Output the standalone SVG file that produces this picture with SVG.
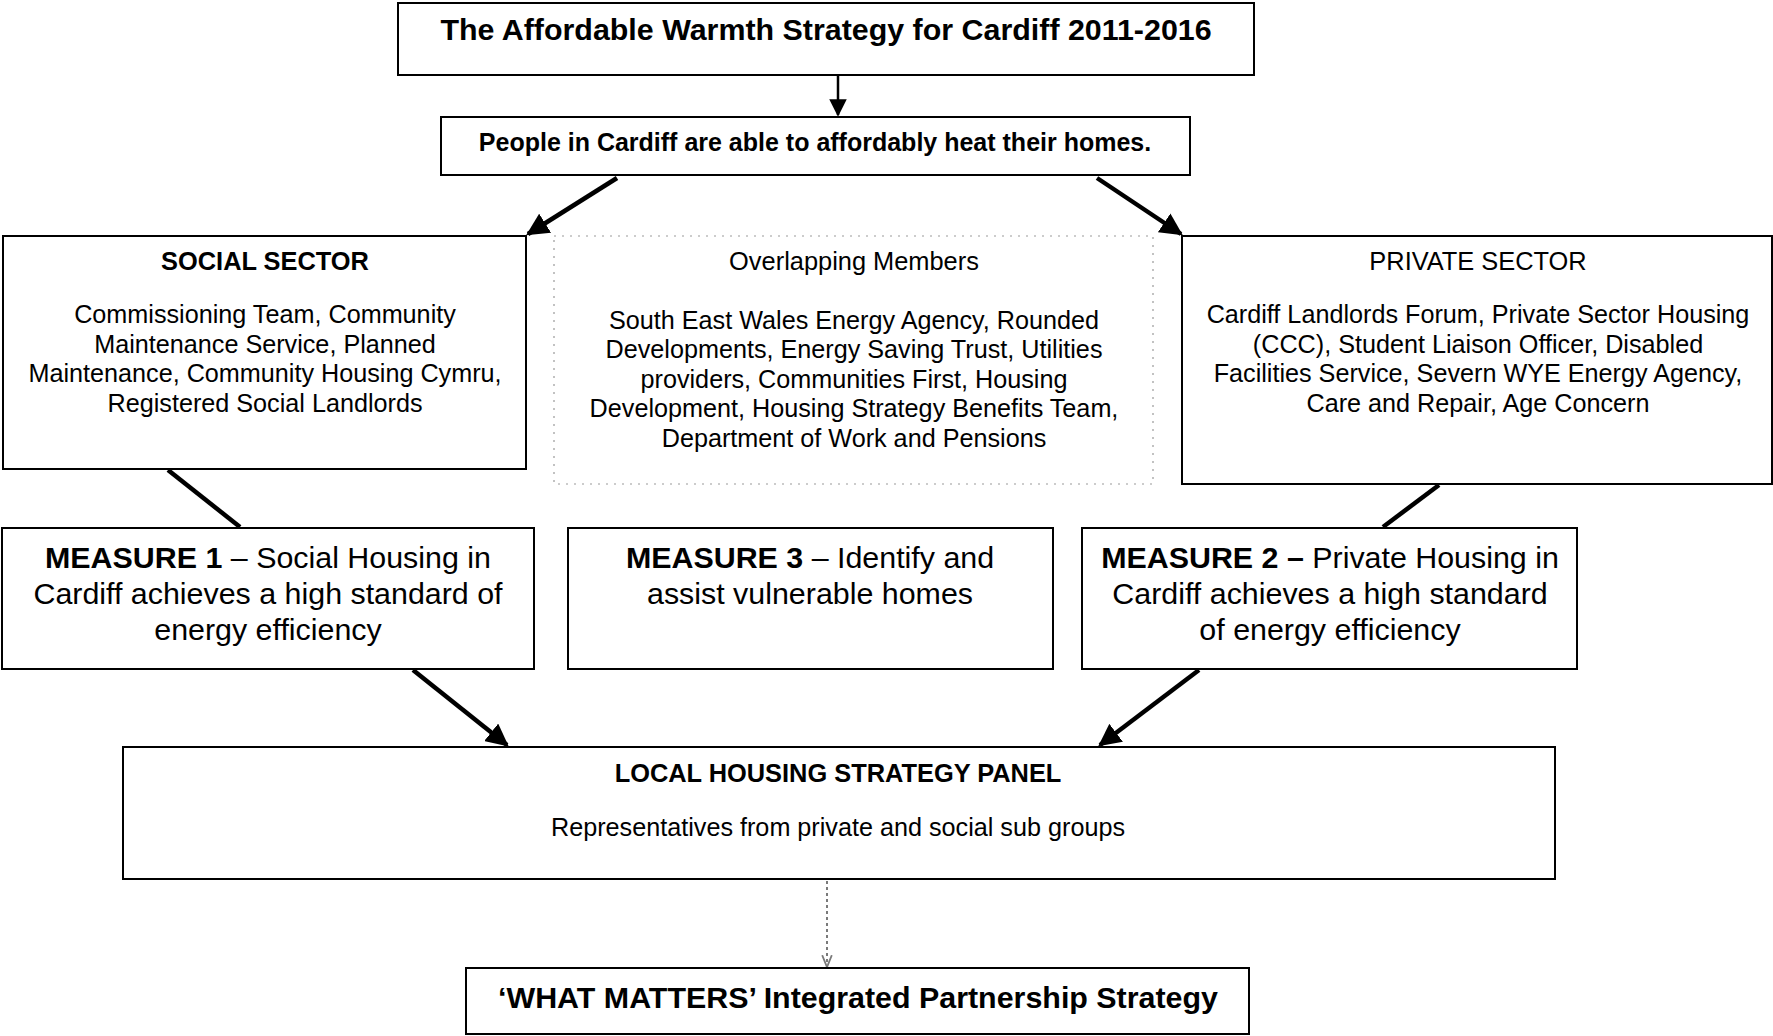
<svg xmlns="http://www.w3.org/2000/svg" width="1773" height="1036" viewBox="0 0 1773 1036">
  <style>
    .box { fill: #ffffff; stroke: #000000; stroke-width: 2; }
    .dotbox { fill: #ffffff; stroke: #9a9a9a; stroke-width: 1.2; stroke-dasharray: 2 6; }
    text { font-family: "Liberation Sans", Arial, sans-serif; fill: #000000; text-anchor: middle; }
    .b { font-weight: bold; }
    .title { font-size: 30.4px; font-weight: bold; }
    .sub { font-size: 25px; font-weight: bold; }
    .head { font-size: 25.4px; }
    .body { font-size: 25.2px; }
    .measure { font-size: 30.4px; }
    .link { stroke: #000000; stroke-width: 4.5; fill: none; }
    .thin { stroke: #000000; stroke-width: 2.5; fill: none; }
    .dash { stroke: #7a7a7a; stroke-width: 2; stroke-dasharray: 3 3; fill: none; }
  </style>
  <defs>
    <marker id="head" viewBox="0 0 10 10" refX="9" refY="5" markerWidth="5" markerHeight="5" orient="auto">
      <path d="M0,0 L10,5 L0,10 Z" fill="#000000"/>
    </marker>
    <marker id="headThin" viewBox="0 0 10 10" refX="9" refY="5" markerWidth="7" markerHeight="7" orient="auto">
      <path d="M0,0 L10,5 L0,10 Z" fill="#000000"/>
    </marker>
    <marker id="headGray" viewBox="0 0 10 10" refX="9" refY="5" markerWidth="6" markerHeight="6" orient="auto">
      <path d="M0,1 L10,5 L0,9" fill="none" stroke="#7a7a7a" stroke-width="1.5"/>
    </marker>
  </defs>

  <!-- connectors -->
  <g id="connectors">
    <line class="thin" x1="838" y1="76" x2="838" y2="115" marker-end="url(#headThin)"/>
    <line class="link" x1="617" y1="178" x2="528" y2="234" marker-end="url(#head)"/>
    <line class="link" x1="1097" y1="178" x2="1181" y2="234" marker-end="url(#head)"/>
    <line class="link" x1="168" y1="470" x2="240" y2="527"/>
    <line class="link" x1="1439" y1="485" x2="1383" y2="527"/>
    <line class="link" x1="413" y1="670" x2="507" y2="745" marker-end="url(#head)"/>
    <line class="link" x1="1199" y1="670" x2="1100" y2="745" marker-end="url(#head)"/>
    <line class="dash" x1="827" y1="881" x2="827" y2="966" marker-end="url(#headGray)"/>
  </g>

  <g id="title">
    <rect class="box" x="398" y="3" width="856" height="72"/>
    <text class="title" x="826" y="40">The Affordable Warmth Strategy for Cardiff 2011-2016</text>
  </g>

  <g id="goal">
    <rect class="box" x="441" y="117" width="749" height="58"/>
    <text class="sub" x="815" y="151">People in Cardiff are able to affordably heat their homes.</text>
  </g>

  <g id="social-sector">
    <rect class="box" x="3" y="236" width="523" height="233"/>
    <text class="head b" x="265" y="270">SOCIAL SECTOR</text>
    <text class="body" x="265" y="323">Commissioning Team, Community</text>
    <text class="body" x="265" y="353">Maintenance Service, Planned</text>
    <text class="body" x="265" y="382">Maintenance, Community Housing Cymru,</text>
    <text class="body" x="265" y="412">Registered Social Landlords</text>
  </g>

  <g id="overlapping-members">
    <rect class="dotbox" x="554" y="236" width="599" height="248"/>
    <text class="head" x="854" y="270">Overlapping Members</text>
    <text class="body" x="854" y="329">South East Wales Energy Agency, Rounded</text>
    <text class="body" x="854" y="358">Developments, Energy Saving Trust, Utilities</text>
    <text class="body" x="854" y="388">providers, Communities First, Housing</text>
    <text class="body" x="854" y="417">Development, Housing Strategy Benefits Team,</text>
    <text class="body" x="854" y="447">Department of Work and Pensions</text>
  </g>

  <g id="private-sector">
    <rect class="box" x="1182" y="236" width="590" height="248"/>
    <text class="head" x="1478" y="270">PRIVATE SECTOR</text>
    <text class="body" x="1478" y="323">Cardiff Landlords Forum, Private Sector Housing</text>
    <text class="body" x="1478" y="353">(CCC), Student Liaison Officer, Disabled</text>
    <text class="body" x="1478" y="382">Facilities Service, Severn WYE Energy Agency,</text>
    <text class="body" x="1478" y="412">Care and Repair, Age Concern</text>
  </g>

  <g id="measure-1">
    <rect class="box" x="2" y="528" width="532" height="141"/>
    <text class="measure" x="268" y="568"><tspan class="b">MEASURE 1</tspan> – Social Housing in</text>
    <text class="measure" x="268" y="604">Cardiff achieves a high standard of</text>
    <text class="measure" x="268" y="640">energy efficiency</text>
  </g>

  <g id="measure-3">
    <rect class="box" x="568" y="528" width="485" height="141"/>
    <text class="measure" x="810" y="568"><tspan class="b">MEASURE 3</tspan> – Identify and</text>
    <text class="measure" x="810" y="604">assist vulnerable homes</text>
  </g>

  <g id="measure-2">
    <rect class="box" x="1082" y="528" width="495" height="141"/>
    <text class="measure" x="1330" y="568"><tspan class="b">MEASURE 2 –</tspan> Private Housing in</text>
    <text class="measure" x="1330" y="604">Cardiff achieves a high standard</text>
    <text class="measure" x="1330" y="640">of energy efficiency</text>
  </g>

  <g id="local-housing-strategy-panel">
    <rect class="box" x="123" y="747" width="1432" height="132"/>
    <text class="head b" x="838" y="782">LOCAL HOUSING STRATEGY PANEL</text>
    <text class="body" x="838" y="836">Representatives from private and social sub groups</text>
  </g>

  <g id="what-matters">
    <rect class="box" x="466" y="968" width="783" height="66"/>
    <text class="title" x="858" y="1008">‘WHAT MATTERS’ Integrated Partnership Strategy</text>
  </g>
</svg>
